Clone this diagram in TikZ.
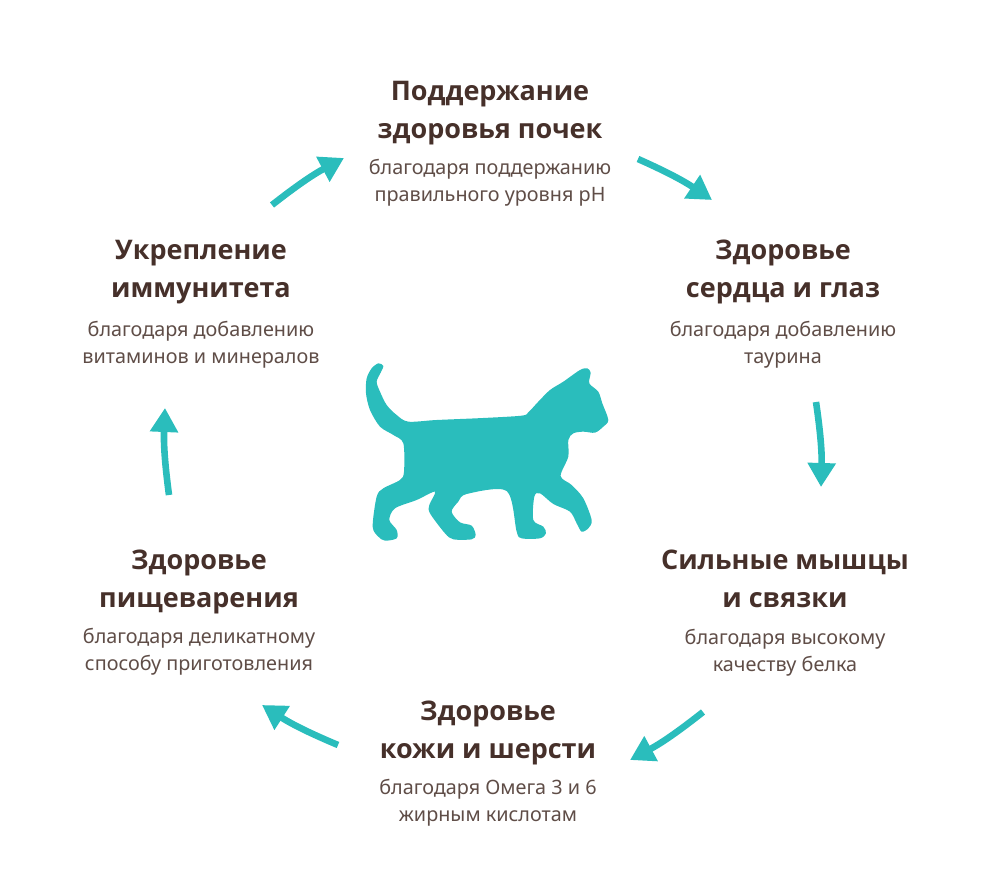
\documentclass[tikz,border=0pt]{standalone}
\usepackage{fontspec}
\setmainfont{Noto Sans}
\newfontfamily\headfont{Open Sans}
\usetikzlibrary{arrows.meta,positioning}
\definecolor{teal}{HTML}{2ABDBC}
\definecolor{headbrown}{HTML}{46302A}
\definecolor{subbrown}{HTML}{5F4D47}
\tikzset{
  headtext/.style={align=center,inner sep=0pt,text=headbrown,font=\headfont\bfseries\fontsize{27}{38.5}\selectfont},
  subtext/.style={align=center,inner sep=0pt,text=subbrown,font=\fontsize{19.8}{27}\selectfont},
  roundarrow/.style={draw=teal,line width=6.6pt,-{Triangle[length=24pt,width=27pt]}}
}
\begin{document}
\begin{tikzpicture}[x=1pt,y=-1pt]
      \useasboundingbox (0,0) rectangle (1000,893);
      % cat
      \begin{scope}[shift={(350,350)},x=0.3333pt,y=-0.3333pt]
        \fill[teal] plot[smooth cycle,tension=0.5] coordinates {
          (85,40) (100,48) (92,68) (80,95) (90,125) (110,165) (140,195) (175,215)
          (260,210) (400,204) (515,197) (535,187) (565,155) (600,120) (640,95)
          (690,60) (712,55) (722,68) (718,100) (745,125) (757,160) (775,210)
          (760,230) (735,248) (700,245) (670,250) (655,270) (655,320) (632,378)
          (665,405) (700,445) (725,510) (715,535) (695,545) (680,520) (660,485)
          (610,462) (570,430) (553,440) (550,510) (580,530) (588,550) (570,565)
          (515,565) (500,545) (470,423) (350,432) (325,455) (305,485) (330,517)
          (365,527) (377,555) (365,568) (310,568) (285,550) (240,490) (238,465)
          (255,425) (200,450) (135,475) (118,510) (140,540) (140,565) (105,572)
          (85,560) (68,530) (80,440) (100,415) (150,390) (162,365) (160,280)
          (130,255) (90,230) (60,180) (48,130) (50,85) (65,55)};
      \end{scope}
      % texts
      \node[headtext] (kidneyhead) at (490,113) {Поддержание\\здоровья почек};
      \node[subtext,below=14pt of kidneyhead] (kidneysub) {благодаря поддержанию\\правильного уровня pH};
      \node[headtext] (hearthead) at (783,272) {Здоровье\\сердца и глаз};
      \node[subtext,below=17pt of hearthead] (heartsub) {благодаря добавлению\\таурина};
      \node[headtext] (musclehead) at (785,579) {Сильные мышцы\\и связки};
      \node[subtext,below=21pt of musclehead] (musclesub) {благодаря высокому\\качеству белка};
      \node[headtext] (skinhead) at (488,733) {Здоровье\\кожи и шерсти};
      \node[subtext,below=14pt of skinhead] (skinsub) {благодаря Омега 3 и 6\\жирным кислотам};
      \node[headtext] (digesthead) at (199,582) {Здоровье\\пищеварения};
      \node[subtext,below=14pt of digesthead] (digestsub) {благодаря деликатному\\способу приготовления};
      \node[headtext] (immunehead) at (201,272) {Укрепление\\иммунитета};
      \node[subtext,below=17pt of immunehead] (immunesub) {благодаря добавлению\\витаминов и минералов};
      % arrow ends
      \coordinate (a1) at (272,205);
      \coordinate (b1) at (344,158);
      \coordinate (a2) at (638,159);
      \coordinate (b2) at (712,200);
      \coordinate (a3) at (816,402);
      \coordinate (b3) at (821,487);
      \coordinate (a4) at (703,712);
      \coordinate (b4) at (630,760);
      \coordinate (a5) at (338,745);
      \coordinate (b5) at (262,705);
      \coordinate (a6) at (169,495);
      \coordinate (b6) at (165,408);
      \draw[roundarrow] (a1) to[bend left=5] (b1);
      \draw[roundarrow] (a2) to[bend left=5] (b2);
      \draw[roundarrow] (a3) to[bend left=5] (b3);
      \draw[roundarrow] (a4) to[bend left=5] (b4);
      \draw[roundarrow] (a5) to[bend left=5] (b5);
      \draw[roundarrow] (a6) to[bend left=5] (b6);
    \end{tikzpicture}
\end{document}
